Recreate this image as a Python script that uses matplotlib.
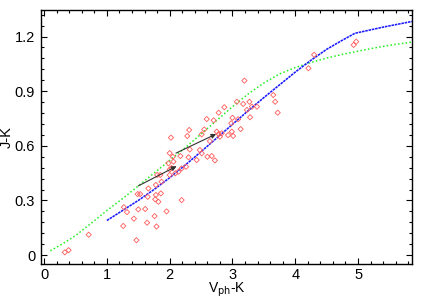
import matplotlib
matplotlib.use("Agg")
import matplotlib.pyplot as plt
from matplotlib.ticker import MultipleLocator

plt.rcParams["font.family"] = ["Liberation Sans", "DejaVu Sans"]

# observed colours (V_ph-K, J-K)
obs_x = [0.33, 0.39, 0.71, 1.26, 1.27, 1.32, 1.43, 1.47, 1.50, 1.61, 1.64, 1.76,
         1.79, 1.95, 2.19, 1.49, 1.53, 1.65, 1.66, 1.77, 1.78, 1.82, 1.86, 1.78,
         1.80, 1.85, 1.87, 2.00, 1.98, 2.00, 2.03, 2.06, 2.09, 2.14, 2.19, 2.26,
         2.00, 2.05, 2.17, 2.30, 2.32, 2.43, 2.48, 2.51, 2.60, 2.67, 2.72, 2.02,
         2.28, 2.31, 2.51, 2.55, 2.59, 2.64, 2.70, 2.75, 2.78, 2.80, 2.83, 2.78,
         2.87, 2.93, 2.99, 3.01, 2.98, 3.00, 3.07, 3.09, 3.13, 3.17, 3.19, 3.23,
         3.27, 3.28, 3.31, 3.39, 3.65, 3.68, 3.72, 4.21, 4.30, 4.93, 4.97]
obs_y = [0.015, 0.027, 0.112, 0.160, 0.263, 0.236, 0.200, 0.082, 0.251, 0.253,
         0.178, 0.214, 0.157, 0.240, 0.302, 0.335, 0.335, 0.320, 0.366, 0.306,
         0.330, 0.293, 0.339, 0.385, 0.440, 0.440, 0.403, 0.440, 0.504, 0.470,
         0.478, 0.513, 0.449, 0.458, 0.476, 0.485, 0.560, 0.540, 0.544, 0.537,
         0.580, 0.522, 0.577, 0.559, 0.540, 0.544, 0.520, 0.645, 0.654, 0.687,
         0.663, 0.690, 0.747, 0.626, 0.740, 0.678, 0.665, 0.650, 0.669, 0.782,
         0.812, 0.659, 0.678, 0.654, 0.724, 0.754, 0.842, 0.746, 0.692, 0.830,
         0.958, 0.797, 0.842, 0.757, 0.815, 0.815, 0.879, 0.842, 0.782, 1.026,
         1.100, 1.154, 1.172]

# model relation (blue, fine dashes)
blue_x = [1.0, 1.25, 1.5, 1.75, 2.0, 2.25, 2.5, 2.75, 3.0, 3.25, 3.5, 3.75,
          4.0, 4.25, 4.5, 4.75, 4.95, 5.4, 5.86]
blue_y = [0.19, 0.245, 0.30, 0.36, 0.425, 0.495, 0.568, 0.643, 0.718, 0.793,
          0.865, 0.935, 1.005, 1.07, 1.13, 1.18, 1.218, 1.252, 1.283]

# model relation (green, dotted)
green_x = [0.1, 0.3, 0.5, 0.75, 1.0, 1.25, 1.5, 1.75, 2.0, 2.25, 2.5, 2.75,
           3.0, 3.25, 3.5, 3.75, 4.0, 4.25, 4.5, 4.75, 5.0, 5.25, 5.5, 5.86]
green_y = [0.024, 0.063, 0.107, 0.175, 0.245, 0.31, 0.38, 0.45, 0.52, 0.59,
           0.665, 0.74, 0.815, 0.885, 0.945, 0.995, 1.03, 1.058, 1.082, 1.102,
           1.12, 1.137, 1.152, 1.17]

# reddening arrows: start, end
arrow_x0 = [1.50, 2.10]
arrow_y0 = [0.380, 0.560]
arrow_x1 = [2.11, 2.74]
arrow_y1 = [0.488, 0.665]

fig, ax = plt.subplots(figsize=(4.27, 2.99), dpi=100)
fig.subplots_adjust(left=0.0955, right=0.965, bottom=0.117, top=0.9666)

ax.plot(green_x, green_y, color="#22ee22", linestyle=(0, (1, 1.5)), linewidth=1.1)
ax.plot(blue_x, blue_y, color="#1a1aff", linestyle=(0, (1.6, 0.5)), linewidth=1.15)
ax.scatter(obs_x, obs_y, marker="D", s=7, facecolors="none",
           edgecolors="#ff5a5a", linewidths=0.6, zorder=3)

for x0, y0, x1, y1 in zip(arrow_x0, arrow_y0, arrow_x1, arrow_y1):
    ax.annotate("", xy=(x1, y1), xytext=(x0, y0),
                arrowprops=dict(arrowstyle="-|>", color="#333333", lw=0.8,
                                mutation_scale=7, shrinkA=0, shrinkB=0),
                zorder=4)

ax.set_xlim(-0.053, 5.86)
ax.set_ylim(-0.049, 1.346)
ax.xaxis.set_major_locator(MultipleLocator(1))
ax.xaxis.set_minor_locator(MultipleLocator(0.2))
ax.yaxis.set_minor_locator(MultipleLocator(0.06))
ax.set_yticks([0, 0.3, 0.6, 0.9, 1.2])
ax.set_yticklabels(["0", "0.3", "0.6", "0.9", "1.2"])
ax.tick_params(which="both", direction="in", top=True, right=True,
               labelsize=10.5, width=0.8)
ax.tick_params(which="major", length=4, pad=4)
ax.tick_params(axis="x", which="major", pad=3)
ax.tick_params(which="minor", length=2)
for sp in ax.spines.values():
    sp.set_linewidth(1.0)

ax.set_xlabel(r"V$_{\mathrm{ph}}$-K", fontsize=10, labelpad=-1)
ax.set_ylabel("J-K", fontsize=10.5, labelpad=1)

fig.savefig("out.png", dpi=100)
